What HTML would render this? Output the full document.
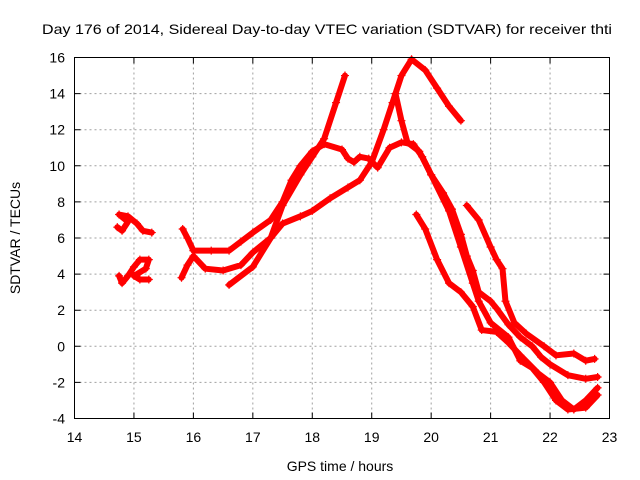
<!DOCTYPE html>
<html><head><meta charset="utf-8"><style>
body{margin:0;background:#fff}
svg{display:block;font-family:"Liberation Sans",sans-serif}
</style></head><body>
<svg id="chart" width="640" height="480" viewBox="0 0 640 480">
<text x="327" y="34" font-size="14" text-anchor="middle" textLength="570" lengthAdjust="spacingAndGlyphs">Day 176 of 2014, Sidereal Day-to-day VTEC variation (SDTVAR) for receiver thti</text>
<g id="grid"></g>
<g id="axes"></g>
<g id="series"></g>
<rect x="74.5" y="57.5" width="535" height="361" fill="none" stroke="#000" stroke-width="1"/>
<text x="340" y="471" font-size="14" text-anchor="middle">GPS time / hours</text>
<text transform="translate(20,238) rotate(-90)" font-size="14" text-anchor="middle">SDTVAR / TECUs</text>
</svg>
<script>
const xTicks=[14,15,16,17,18,19,20,21,22,23];
const yTicks=[-4,-2,0,2,4,6,8,10,12,14,16];
const trackA=[[14.72,6.6],[14.8,6.4],[14.9,6.9],[14.75,7.3],[14.9,7.2],[15.05,6.8],[15.15,6.4],[15.3,6.3]];
const trackB=[[14.75,3.9],[14.8,3.5],[14.9,3.9],[15.0,4.4],[15.1,4.8],[15.25,4.8],[15.2,4.3],[15.0,3.9],[15.1,3.7],[15.25,3.7]];
const trackC=[[15.82,6.5],[15.9,6.0],[16.0,5.3],[16.3,5.3],[16.6,5.3],[16.8,5.8],[17.0,6.3],[17.3,7.0],[17.5,8.0],[17.65,9.2],[17.8,10.0],[18.0,10.8],[18.2,11.2],[18.5,10.9],[18.6,10.4],[18.7,10.2],[18.8,10.5],[18.95,10.4],[19.1,9.9],[19.3,11.0],[19.5,11.3],[19.7,11.2],[19.85,10.5],[20.0,9.5],[20.2,8.5],[20.35,7.6],[20.5,6.2],[20.6,5.0],[20.7,4.2],[20.8,3.0],[21.0,2.5],[21.1,2.1],[21.3,1.2],[21.5,0.5],[21.7,0.0],[21.85,-0.6],[22.0,-1.0],[22.3,-1.6],[22.6,-1.8],[22.8,-1.7]];
const trackD=[[15.8,3.8],[15.9,4.5],[16.0,5.0],[16.2,4.3],[16.5,4.2],[16.8,4.5],[17.0,5.2],[17.3,6.0],[17.5,6.8],[17.8,7.2],[18.0,7.5],[18.3,8.2],[18.6,8.8],[18.8,9.2],[19.0,10.2],[19.2,12.0],[19.35,13.5],[19.5,15.0],[19.67,15.9],[19.9,15.3],[20.1,14.3],[20.3,13.3],[20.5,12.5]];
const trackE=[[16.6,3.4],[17.0,4.4],[17.3,6.0],[17.5,7.8],[17.8,9.5],[18.0,10.5],[18.2,11.5],[18.4,13.5],[18.55,15.0]];
const trackF=[[19.4,14.0],[19.5,12.5],[19.6,11.3],[19.8,10.8],[20.0,9.5],[20.3,7.5],[20.5,5.5],[20.7,3.5],[20.8,2.5],[21.0,1.3],[21.3,0.5],[21.5,-0.8],[21.7,-1.2],[21.9,-2.0],[22.1,-3.0],[22.3,-3.5],[22.6,-3.4],[22.8,-2.7]];
const trackG=[[19.75,7.3],[19.9,6.5],[20.1,4.8],[20.3,3.5],[20.5,3.0],[20.7,2.2],[20.85,0.9],[21.1,0.8],[21.3,0.2],[21.5,-0.5],[21.8,-1.5],[22.0,-2.0],[22.2,-3.0],[22.4,-3.5],[22.6,-3.0],[22.8,-2.3]];
const trackH=[[20.6,7.8],[20.8,7.0],[21.0,5.5],[21.1,4.8],[21.2,4.3],[21.25,2.5],[21.4,1.3],[21.6,0.7],[21.9,0.0],[22.1,-0.5],[22.4,-0.4],[22.6,-0.8],[22.75,-0.7]];
const tracks=[trackA,trackB,trackC,trackD,trackE,trackF,trackG,trackH];
const NS='http://www.w3.org/2000/svg';
const X0=74.5,X1=609.5,Y0=418.5,Y1=57.5;
function sx(v){return X0+(v-14)/9*(X1-X0);}
function sy(v){return Y0-(v+4)/20*(Y0-Y1);}
const grid=document.getElementById('grid'),axes=document.getElementById('axes'),ser=document.getElementById('series');
xTicks.forEach(t=>{
  const x=sx(t);
  if(t>14&&t<23){const l=document.createElementNS(NS,'line');
  
  
  l.setAttribute('x1',x);l.setAttribute('x2',x);l.setAttribute('y1',Y1);l.setAttribute('y2',Y0);
  l.setAttribute('stroke','#a0a0a0');l.setAttribute('stroke-dasharray','2,3');grid.appendChild(l);}
  const tk=document.createElementNS(NS,'path');
  
  
  tk.setAttribute('d',`M${x} ${Y0}v-6M${x} ${Y1}v6`);tk.setAttribute('stroke','#000');axes.appendChild(tk);
  const tx=document.createElementNS(NS,'text');
  
  
  tx.setAttribute('x',x);tx.setAttribute('y',442);tx.setAttribute('font-size','14');tx.setAttribute('text-anchor','middle');
  tx.textContent=t;axes.appendChild(tx);
});
yTicks.forEach(t=>{
  const y=sy(t);
  if(t>-4&&t<16){const l=document.createElementNS(NS,'line');
  
  
  l.setAttribute('x1',X0);l.setAttribute('x2',X1);l.setAttribute('y1',y);l.setAttribute('y2',y);
  l.setAttribute('stroke','#a0a0a0');l.setAttribute('stroke-dasharray','2,3');grid.appendChild(l);}
  const tk=document.createElementNS(NS,'path');
  
  
  tk.setAttribute('d',`M${X0} ${y}h6M${X1} ${y}h-6`);tk.setAttribute('stroke','#000');axes.appendChild(tk);
  const tx=document.createElementNS(NS,'text');
  
  
  tx.setAttribute('x',65);tx.setAttribute('y',y+5);tx.setAttribute('font-size','14');tx.setAttribute('text-anchor','end');
  tx.textContent=t;axes.appendChild(tx);
});
tracks.forEach(tr=>{
  const p=document.createElementNS(NS,'polyline');
  
  
  p.setAttribute('points',tr.map(d=>sx(d[0])+','+sy(d[1])).join(' '));
  p.setAttribute('fill','none');p.setAttribute('stroke','#ff0000');p.setAttribute('stroke-width','6');
  p.setAttribute('stroke-linejoin','round');p.setAttribute('stroke-linecap','round');
  ser.appendChild(p);
  tr.forEach(d=>{
    const m=document.createElementNS(NS,'path');
    
    
    const x=sx(d[0]),y=sy(d[1]);
    m.setAttribute('d',`M${x-4} ${y}h8M${x} ${y-4}v8`);m.setAttribute('stroke','#ff0000');m.setAttribute('stroke-width','1.2');
    ser.appendChild(m);
  });
});
</script>
</body></html>
